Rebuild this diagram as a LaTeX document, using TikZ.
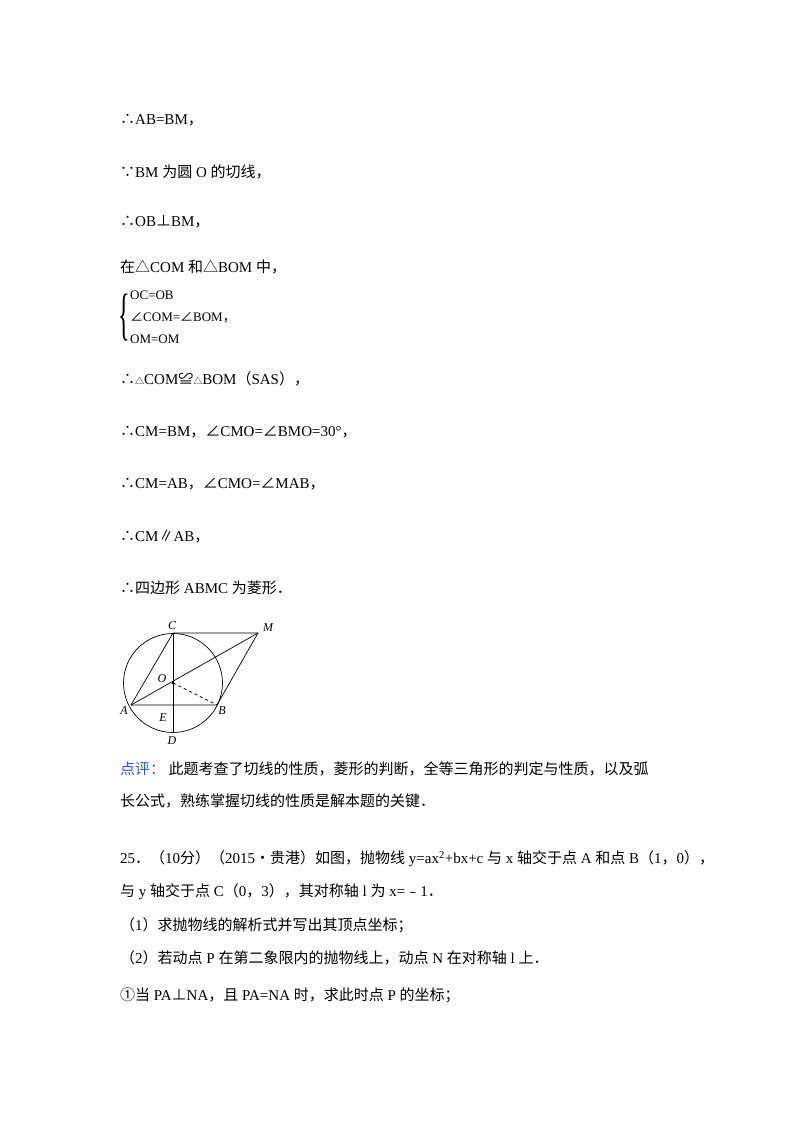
\documentclass[tikz,border=0pt]{standalone}
\usepackage{fontspec}
\setmainfont{Liberation Serif}
\newfontfamily\zhf{Noto Sans CJK SC}
\newcommand{\zh}[1]{{\zhf #1}}
\definecolor{pblue}{RGB}{40,90,200}
\begin{document}
\begin{tikzpicture}[x=1pt,y=-1pt,
  txt/.style={anchor=west,inner sep=0pt,font=\fontsize{15}{18}\selectfont},
  sml/.style={anchor=west,inner sep=0pt,text height=9pt,text depth=2pt,font=\fontsize{13}{15}\selectfont},
  lbl/.style={inner sep=0pt,font=\fontsize{12}{14}\selectfont\itshape},
  fig/.style={line width=0.7pt}]
\useasboundingbox[fill=white] (0,0) rectangle (800,1132);
\node[txt] (l1) at (120,120) {\zh{∴}AB=BM\zh{，}};
\node[txt] (l2) at (120,172) {\zh{∵}BM \zh{为圆} O \zh{的切线，}};
\node[txt] (l3) at (120,222) {\zh{∴}OB\zh{⊥}BM\zh{，}};
\node[txt] (l4) at (120,267) {\zh{在△}COM \zh{和△}BOM \zh{中，}};
\node[inner sep=0pt,font=\fontsize{30}{30}\selectfont,xscale=0.8,yscale=1.9] (br) at (124,318) {\{};
\node[sml] (s1) at (130,296) {OC=OB};
\node[sml] (s2) at (130,318) {\zh{∠}COM=\zh{∠}BOM\zh{，}};
\node[sml] (s3) at (130,340) {OM=OM};
\node[txt] (l5) at (120,379) {\zh{∴}{\fontsize{9}{9}\selectfont\zh{△}}COM\zh{≌}{\fontsize{9}{9}\selectfont\zh{△}}BOM\zh{（}SAS\zh{），}};
\node[txt] (l6) at (120,432) {\zh{∴}CM=BM\zh{，∠}CMO=\zh{∠}BMO=30°\zh{，}};
\node[txt] (l7) at (120,484) {\zh{∴}CM=AB\zh{，∠}CMO=\zh{∠}MAB\zh{，}};
\node[txt] (l8) at (120,537) {\zh{∴}CM\zh{∥}AB\zh{，}};
\node[txt] (l9) at (120,588) {\zh{∴四边形} ABMC \zh{为菱形．}};
% figure
\coordinate (O) at (173,683);
\coordinate (C) at (173,633);
\coordinate (D) at (173,732);
\coordinate (A) at (131,705);
\coordinate (B) at (217,705);
\coordinate (M) at (258,633);
\coordinate (E) at (173,705);
\draw[fig] (O) circle (49.5);
\draw[fig] (C) -- (D);
\draw[fig] (C) -- (M) -- (B) -- (A) -- (C);
\draw[fig] (A) -- (M);
\draw[fig,dashed] (O) -- (B);
\fill (O) circle (1.5);
\node[lbl] (tC) at (172,626) {C};
\node[lbl] (tM) at (268,628) {M};
\node[lbl] (tO) at (162,679) {O};
\node[lbl] (tA) at (124,711) {A};
\node[lbl] (tB) at (222,711) {B};
\node[lbl] (tE) at (163,718) {E};
\node[lbl] (tD) at (172,741) {D};
% comment
\node[txt] (c1) at (120,769) {\zh{\textcolor{pblue}{点评：} 此题考查了切线的性质，菱形的判断，全等三角形的判定与性质，以及弧}};
\node[txt] (c2) at (120,801) {\zh{长公式，熟练掌握切线的性质是解本题的关键．}};
\node[txt] (q1) at (120,859) {25\zh{．（}10\zh{分）（}2015\zh{•贵港）如图，抛物线} y=ax\textsuperscript{2}+bx+c \zh{与} x \zh{轴交于点} A \zh{和点} B\zh{（}1\zh{，}0\zh{），}};
\node[txt] (q2) at (120,892) {\zh{与} y \zh{轴交于点} C\zh{（}0\zh{，}3\zh{），其对称轴} l \zh{为} x=\zh{﹣}1\zh{．}};
\node[txt] (q3) at (120,925) {\zh{（}1\zh{）求抛物线的解析式并写出其顶点坐标；}};
\node[txt] (q4) at (120,958) {\zh{（}2\zh{）若动点} P \zh{在第二象限内的抛物线上，动点} N \zh{在对称轴} l \zh{上．}};
\node[txt] (q5) at (120,995) {\zh{①当} PA\zh{⊥}NA\zh{，且} PA=NA \zh{时，求此时点} P \zh{的坐标；}};
\end{tikzpicture}
\end{document}
